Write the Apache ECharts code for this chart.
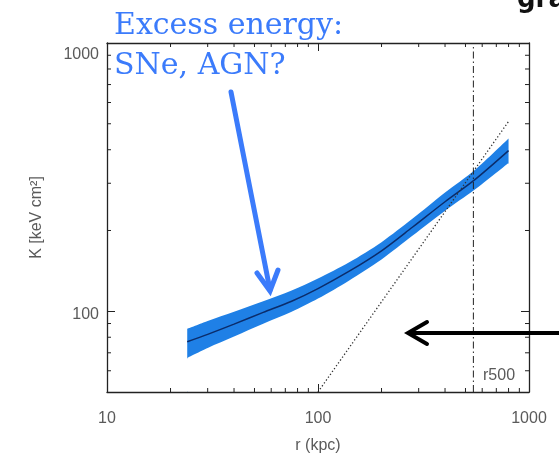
<!DOCTYPE html>
<html>
<head>
<meta charset="utf-8">
<script src="https://cdn.jsdelivr.net/npm/echarts@6/dist/echarts.min.js"></script>
<style>
  html, body { margin: 0; padding: 0; background: #fff; }
  #chart { width: 559px; height: 459px; }
</style>
</head>
<body>
<div id="chart"></div>
<script>
// Entropy profile K(r) with its scatter band, the r^1.1 baseline and r500
const radius = [24, 30, 40, 55, 75, 100, 140, 200, 280, 400, 550, 800];
const kMedian = [77, 82, 89.5, 99, 109, 121.5, 140.7, 168, 205.6, 256, 308, 397];
const kLower = [67, 73, 80.5, 89.8, 99.5, 111.5, 130, 156, 191, 237, 283, 357];
const kUpper = [86, 92, 99.5, 109, 119.5, 132.5, 152, 181, 221, 277, 335, 441];

// gravity-only baseline (straight line in log-log)
const baseR = [100, 800];
const baseK = [50, 510];

const r500 = 545;

const xRange = [10, 1000];
const yRange = [50, 1000];
const xLabels = [10, 100, 1000];
const yLabels = [100, 1000];
const xMinorTicks = [20, 30, 40, 50, 60, 70, 80, 90, 200, 300, 400, 500, 600, 700, 800, 900];
const yMinorTicks = [60, 70, 80, 90, 200, 300, 400, 500, 600, 700, 800, 900];

const labelFont = 'Liberation Sans';
const axisColor = '#222';
const textGrey = '#5a5a5a';
const blue = '#3b7bfb';
const bandBlue = '#1f80e6';

const chart = echarts.init(document.getElementById('chart'), null, { renderer: 'canvas' });

function axisBase(pos, showLabels) {
  return {
    type: 'log',
    logBase: 10,
    position: pos,
    z: 10,
    axisLine: { show: true, lineStyle: { color: axisColor, width: 1.3 } },
    axisTick: { show: true, inside: true, length: 8, lineStyle: { color: axisColor, width: 1 } },
    splitLine: { show: false },
    axisLabel: { show: showLabels }
  };
}

const xMain = Object.assign(axisBase('bottom', true), {
  min: xRange[0], max: xRange[1],
  axisLabel: {
    show: true, margin: 19, color: textGrey, fontSize: 16, fontFamily: labelFont,
    formatter: v => (xLabels.indexOf(Math.round(v)) >= 0 ? String(Math.round(v)) : '')
  },
  name: 'r (kpc)', nameLocation: 'middle', nameGap: 46,
  nameTextStyle: { color: textGrey, fontSize: 16, fontFamily: labelFont }
});
const xTop = Object.assign(axisBase('top', false), { min: xRange[0], max: xRange[1] });

const yMain = Object.assign(axisBase('left', true), {
  min: yRange[0], max: yRange[1],
  axisLabel: {
    show: true, margin: 8, color: textGrey, fontSize: 16, fontFamily: labelFont,
    formatter: v => {
      const n = Math.round(v);
      if (yLabels.indexOf(n) < 0) return '';
      return n === yRange[1] ? '{top|' + n + '}' : '{mid|' + n + '}';
    },
    rich: {
      top: { color: textGrey, fontSize: 16, fontFamily: labelFont, padding: [24, 0, 0, 0] },
      mid: { color: textGrey, fontSize: 16, fontFamily: labelFont, padding: [6, 0, 0, 0] }
    }
  },
  name: 'K [keV cm²]', nameLocation: 'middle', nameGap: 62, nameRotate: 90,
  nameTextStyle: { color: textGrey, fontSize: 16, fontFamily: labelFont }
});
const yRight = Object.assign(axisBase('right', false), { min: yRange[0], max: yRange[1] });

// short inward minor ticks on all four sides of the frame
function renderMinorTicks(params, api) {
  const kids = [];
  const style = { stroke: axisColor, lineWidth: 1 };
  xMinorTicks.forEach(x => {
    const b = api.coord([x, yRange[0]]);
    const t = api.coord([x, yRange[1]]);
    kids.push({ type: 'line', shape: { x1: b[0], y1: b[1], x2: b[0], y2: b[1] - 4 }, style });
    kids.push({ type: 'line', shape: { x1: t[0], y1: t[1], x2: t[0], y2: t[1] + 4 }, style });
  });
  yMinorTicks.forEach(y => {
    const l = api.coord([xRange[0], y]);
    const r = api.coord([xRange[1], y]);
    kids.push({ type: 'line', shape: { x1: l[0], y1: l[1], x2: l[0] + 4, y2: l[1] }, style });
    kids.push({ type: 'line', shape: { x1: r[0], y1: r[1], x2: r[0] - 4, y2: r[1] }, style });
  });
  return { type: 'group', children: kids };
}

// tidy the two vertical edges of the background-coloured fill under the band
function renderBandEdges(params, api) {
  const ends = [0, radius.length - 1];
  return {
    type: 'group',
    children: ends.map(i => {
      const top = api.coord([radius[i], kLower[i]]);
      const bottom = api.coord([radius[i], yRange[0]]);
      return {
        type: 'line',
        shape: { x1: top[0], y1: top[1] + 1, x2: bottom[0], y2: bottom[1] - 1 },
        style: { stroke: '#ffffff', lineWidth: 2.5 }
      };
    })
  };
}

// band: upper envelope filled down to the axis, then the region below the
// lower envelope painted back in the background colour
const bandSmooth = 0.3;

chart.setOption({
  backgroundColor: '#ffffff',
  animation: false,
  grid: { left: 107, right: 30, top: 43, bottom: 65 },
  xAxis: [xMain, xTop],
  yAxis: [yMain, yRight],
  series: [
    {
      type: 'line', name: 'band upper', xAxisIndex: 0, yAxisIndex: 0,
      data: radius.map((r, i) => [r, kUpper[i]]),
      smooth: bandSmooth, symbol: 'none', silent: true,
      lineStyle: { width: 0, opacity: 0 },
      areaStyle: { color: bandBlue, opacity: 1, origin: 'start' }, z: 1
    },
    {
      type: 'line', name: 'band lower', xAxisIndex: 0, yAxisIndex: 0,
      data: radius.map((r, i) => [r, kLower[i]]),
      smooth: bandSmooth, symbol: 'none', silent: true,
      lineStyle: { width: 0, opacity: 0 },
      areaStyle: { color: '#ffffff', opacity: 1, origin: 'start' }, z: 1.5
    },
    {
      type: 'custom', name: 'band edges', xAxisIndex: 0, yAxisIndex: 0,
      renderItem: renderBandEdges, data: [[radius[0], kLower[0]]], z: 1.8, silent: true
    },
    {
      type: 'line', name: 'median', xAxisIndex: 0, yAxisIndex: 0,
      data: radius.map((r, i) => [r, kMedian[i]]),
      smooth: bandSmooth, symbol: 'none',
      lineStyle: { color: '#0b2c6b', width: 1.5 }, z: 3
    },
    {
      type: 'line', name: 'baseline', xAxisIndex: 0, yAxisIndex: 0,
      data: baseR.map((r, i) => [r, baseK[i]]),
      symbol: 'none',
      lineStyle: { color: '#333', width: 1.3, type: [1.3, 2.2] }, z: 4
    },
    {
      type: 'line', name: 'r500', xAxisIndex: 0, yAxisIndex: 0,
      data: [[r500, yRange[0]], [r500, yRange[1]]],
      symbol: 'none',
      lineStyle: { color: '#222', width: 1, type: [7, 3, 1.5, 3] }, z: 4
    },
    {
      type: 'custom', name: 'minor ticks', xAxisIndex: 0, yAxisIndex: 0,
      renderItem: renderMinorTicks, data: [[xRange[0], yRange[0]]], z: 12, silent: true
    }
  ],
  graphic: [
    { type: 'text', left: 483, top: 368, z: 20, style: { text: 'r500', fill: textGrey, font: '16px "Liberation Sans"' } },
    {
      type: 'text', x: 114, y: 41, z: 20,
      style: { text: 'Excess energy:', fill: blue, font: '30px "DejaVu Serif"', verticalAlign: 'bottom' }
    },
    {
      type: 'text', x: 114, y: 81, z: 20,
      style: { text: 'SNe, AGN?', fill: blue, font: '30px "DejaVu Serif"', verticalAlign: 'bottom' }
    },
    {
      type: 'text', x: 517, y: 13, z: 20,
      style: { text: 'gravity', fill: '#111', font: 'bold 26px "DejaVu Sans"', verticalAlign: 'bottom' }
    },
    // blue pointer to the inner profile
    { type: 'line', z: 20, shape: { x1: 231, y1: 92, x2: 270, y2: 290 }, style: { stroke: blue, lineWidth: 5, lineCap: 'round' } },
    { type: 'polyline', z: 20, shape: { points: [[257, 273], [270, 291], [278, 270]] }, style: { stroke: blue, lineWidth: 5, lineCap: 'round', lineJoin: 'miter', fill: null } },
    // black pointer to the baseline
    { type: 'line', z: 20, shape: { x1: 565, y1: 333, x2: 410, y2: 333 }, style: { stroke: '#000', lineWidth: 4 } },
    { type: 'polyline', z: 20, shape: { points: [[427, 322], [408, 333], [427, 344]] }, style: { stroke: '#000', lineWidth: 4, lineCap: 'round', lineJoin: 'miter', fill: null } }
  ]
});
</script>
</body>
</html>
